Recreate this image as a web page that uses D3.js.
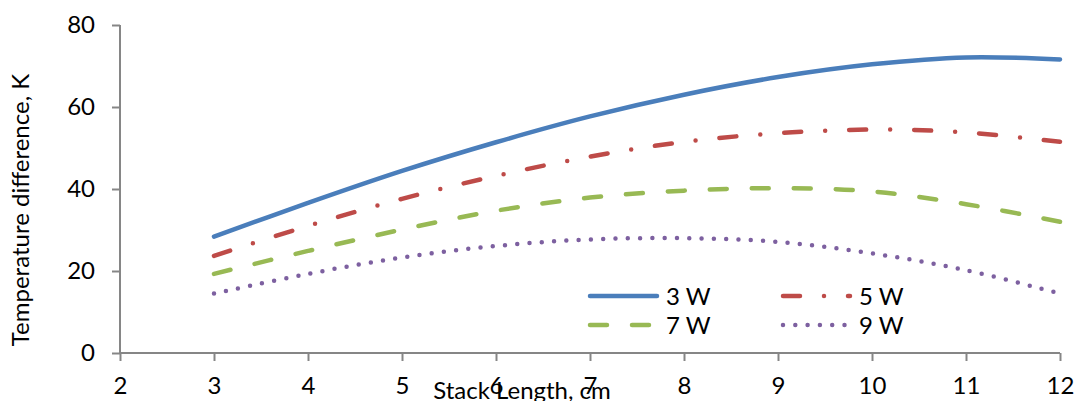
<!DOCTYPE html>
<html>
<head>
<meta charset="utf-8">
<script src="https://cdn.jsdelivr.net/npm/d3@7"></script>
<style>
  html, body { margin: 0; padding: 0; background: #fff; }
  svg { display: block; }
  text { font-family: Lato, "Open Sans", sans-serif; fill: #000; }
</style>
</head>
<body>
<div id="chart"></div>
<script>
// ---- data ----
const stackLength = [3, 4, 5, 6, 7, 8, 9, 10, 11, 12];
const series3W = [28.4, 36.6, 44.4, 51.4, 57.7, 63.0, 67.3, 70.4, 72.1, 71.6];
const series5W = [23.7, 31.0, 37.6, 43.2, 47.9, 51.5, 53.6, 54.5, 53.8, 51.5];
const series7W = [19.3, 24.9, 30.1, 34.7, 37.9, 39.6, 40.2, 39.4, 36.3, 32.0];
const series9W = [14.5, 19.3, 23.3, 26.1, 27.7, 28.0, 27.1, 24.3, 20.2, 14.5];
const seriesNames = ["3 W", "5 W", "7 W", "9 W"];
const xTicks = [2, 3, 4, 5, 6, 7, 8, 9, 10, 11, 12];
const yTicks = [0, 20, 40, 60, 80];
const xTitle = "Stack Length, cm";
const yTitle = "Temperature difference, K";

// ---- styles ----
const colors = ["#4a7ebb", "#be4b48", "#98b954", "#7d60a0"];
const dashes = [null, "17 24 0 24", "17 25", "0 12.3"];
const W = 1079, H = 401;
const mLeft = 120, mRight = 1060, mTop = 25, mBottom = 353;
const fontSize = "24px";

const svg = d3.select("#chart").append("svg").attr("width", W).attr("height", H);

const x = d3.scaleLinear().domain([2, 12]).range([mLeft, mRight]);
const y = d3.scaleLinear().domain([0, 80]).range([mBottom, mTop]);

const axisColor = "#868686";

// y axis
const yAxis = svg.append("g").attr("transform", `translate(${mLeft},0)`)
  .call(d3.axisLeft(y).tickValues(yTicks).tickSize(8).tickPadding(17).tickFormat(d3.format("d")));
// x axis
const xAxis = svg.append("g").attr("transform", `translate(0,${mBottom})`)
  .call(d3.axisBottom(x).tickValues(xTicks).tickSize(8).tickPadding(16).tickFormat(d3.format("d")));

[yAxis, xAxis].forEach(g => {
  g.select(".domain").attr("stroke", axisColor).attr("stroke-width", 2);
  g.selectAll(".tick line").attr("stroke", axisColor).attr("stroke-width", 2);
  g.selectAll(".tick text").style("font-family", "Lato, sans-serif").style("font-size", fontSize).attr("fill", "#000");
});
yAxis.select(".domain").attr("d", `M0,${mTop}V${mBottom}`);
xAxis.select(".domain").attr("d", `M${mLeft},0H${mRight}`);

// lines
const allSeries = [series3W, series5W, series7W, series9W];
const line = d3.line()
  .x((d, i) => x(stackLength[i]))
  .y(d => y(d))
  .curve(d3.curveCatmullRom.alpha(0.5));

allSeries.forEach((s, k) => {
  svg.append("path")
    .datum(s)
    .attr("d", line)
    .attr("fill", "none")
    .attr("stroke", colors[k])
    .attr("stroke-width", 4.5)
    .attr("stroke-linecap", "round")
    .attr("stroke-dasharray", dashes[k]);
});

// axis titles
svg.append("text")
  .attr("transform", "translate(29,210) rotate(-90)")
  .attr("text-anchor", "middle")
  .style("font-size", fontSize)
  .text(yTitle);

svg.append("text")
  .attr("x", 522).attr("y", 399)
  .attr("text-anchor", "middle")
  .style("font-size", fontSize)
  .text(xTitle);

// legend
const legendPos = [[590, 296], [783, 296], [590, 325], [783, 325]];
seriesNames.forEach((name, k) => {
  const [lx, ly] = legendPos[k];
  const g = svg.append("g");
  g.append("line")
    .attr("x1", lx).attr("x2", lx + 67)
    .attr("y1", ly).attr("y2", ly)
    .attr("stroke", colors[k])
    .attr("stroke-width", 4.5)
    .attr("stroke-linecap", "round")
    .attr("stroke-dasharray", dashes[k]);
  g.append("text")
    .attr("x", lx + 76).attr("y", ly + 8.5)
    .style("font-size", fontSize)
    .text(name);
});
</script>
</body>
</html>
